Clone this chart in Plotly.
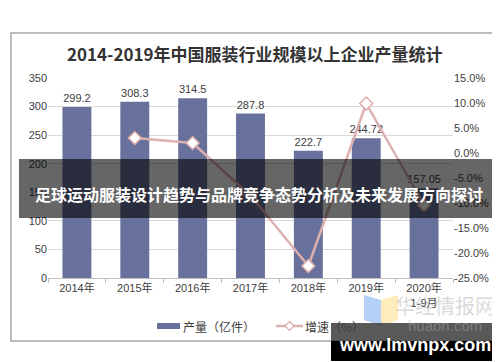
import plotly.graph_objects as go

categories = ["2014年", "2015年", "2016年", "2017年", "2018年", "2019年", "2020年<br>1-9月"]
output_values = [299.2, 308.3, 314.5, 287.8, 222.7, 244.72, 157.05]
output_labels = ["299.2", "308.3", "314.5", "287.8", "222.7", "244.72", "157.05"]
growth_values = [None, 3.0, 2.0, -8.5, -22.6, 9.9, -10.4]
left_ticks = [0, 50, 100, 150, 200, 250, 300, 350]
right_ticks = [-25, -20, -15, -10, -5, 0, 5, 10, 15]
right_tick_text = ["-25.0%", "-20.0%", "-15.0%", "-10.0%", "-5.0%", "0.0%", "5.0%", "10.0%", "15.0%"]

W, H = 500, 362
PL, PR, PT, PB = 40, 445, 70, 270


def px(x):
    return (x - PL) / (PR - PL)


def py(y):
    return (PB - y) / (PB - PT)


FONT = "Liberation Sans, Arial, Noto Sans CJK SC, sans-serif"
CJK = "Noto Sans CJK SC, sans-serif"
BAR_COLOR = "rgb(104,113,155)"
LINE_COLOR = "rgb(221,176,176)"

fig = go.Figure()
fig.add_trace(go.Bar(
    x=categories, y=output_values, name="产量（亿件）",
    marker=dict(color=BAR_COLOR, line=dict(width=0)),
    width=0.5,
    text=output_labels, textposition="outside", cliponaxis=False,
    constraintext="none",
    textfont=dict(family=FONT, size=11, color="#404040"),
))
fig.add_trace(go.Scatter(
    x=categories, y=growth_values, name="增速（%）", yaxis="y2",
    mode="lines+markers",
    line=dict(color=LINE_COLOR, width=2.5),
    marker=dict(symbol="diamond", size=10, color="white",
                line=dict(color="rgb(221,170,170)", width=1.5)),
))

shapes = []
# outer border
shapes.append(dict(type="rect", xref="paper", yref="paper",
                   x0=px(3), x1=px(497), y0=py(333), y1=py(25),
                   line=dict(color="#a6a6a6", width=1.5), layer="below"))
# custom legend marks
shapes.append(dict(type="rect", xref="paper", yref="paper",
                   x0=px(149), x1=px(172), y0=py(321), y1=py(315),
                   fillcolor=BAR_COLOR, line=dict(width=0)))
shapes.append(dict(type="line", xref="paper", yref="paper",
                   x0=px(268), x1=px(295), y0=py(318), y1=py(318),
                   line=dict(color=LINE_COLOR, width=2.5)))
shapes.append(dict(type="path", xref="paper", yref="paper",
                   path=f"M {px(281.5)},{py(313.5)} L {px(286)},{py(318)} L {px(281.5)},{py(322.5)} L {px(277)},{py(318)} Z",
                   fillcolor="white", line=dict(color="rgb(221,170,170)", width=1.2)))
# watermark logo (faint)
shapes.append(dict(type="path", xref="paper", yref="paper",
                   path=f"M {px(356)},{py(287)} L {px(373)},{py(292)} L {px(373)},{py(318)} L {px(356)},{py(312)} Z",
                   fillcolor="rgba(120,170,240,0.55)", line=dict(width=0), layer="above"))
shapes.append(dict(type="path", xref="paper", yref="paper",
                   path=f"M {px(373)},{py(292)} L {px(390)},{py(287)} L {px(390)},{py(312)} L {px(373)},{py(318)} Z",
                   fillcolor="rgba(250,225,140,0.6)", line=dict(width=0), layer="above"))
# banner
shapes.append(dict(type="rect", xref="paper", yref="paper",
                   x0=px(11), x1=px(490), y0=py(210), y1=py(151),
                   fillcolor="rgba(0,0,0,0.6)", line=dict(width=0), layer="above"))
# bottom-right site box
shapes.append(dict(type="rect", xref="paper", yref="paper",
                   x0=px(323), x1=px(491), y0=py(333), y1=py(315),
                   fillcolor="rgba(60,60,60,0.85)", line=dict(width=0), layer="above"))
shapes.append(dict(type="rect", xref="paper", yref="paper",
                   x0=px(323), x1=px(491), y0=py(353), y1=py(333),
                   fillcolor="#000000", line=dict(width=0), layer="above"))

annotations = [
    dict(text="<b>2014-2019年中国服装行业规模以上企业产量统计</b>", xref="paper", yref="paper",
         x=px(247), y=py(45), showarrow=False, xanchor="center", yanchor="middle",
         font=dict(family=CJK, size=17, color="#333333")),
    dict(text="产量（亿件）", xref="paper", yref="paper", x=px(173), y=py(318),
         showarrow=False, xanchor="left", yanchor="middle",
         font=dict(family=CJK, size=12, color="#404040")),
    dict(text="增速（%）", xref="paper", yref="paper", x=px(295), y=py(318),
         showarrow=False, xanchor="left", yanchor="middle",
         font=dict(family=CJK, size=12, color="#404040")),
    dict(text="华经情报网", xref="paper", yref="paper", x=px(437), y=py(297),
         showarrow=False, xanchor="center", yanchor="middle",
         font=dict(family=CJK, size=20, color="rgba(170,170,170,0.45)")),
    dict(text="huaon.com", xref="paper", yref="paper", x=px(437), y=py(317),
         showarrow=False, xanchor="center", yanchor="middle",
         font=dict(family=FONT, size=15, color="rgba(170,170,170,0.45)")),
    dict(text="<b>足球运动服装设计趋势与品牌竞争态势分析及未来发展方向探讨</b>", xref="paper", yref="paper",
         x=px(251), y=py(186), showarrow=False, xanchor="center", yanchor="middle",
         font=dict(family=CJK, size=16, color="white")),
    dict(text="<b>www.lmvnpx.com</b>", xref="paper", yref="paper",
         x=px(407), y=py(337), showarrow=False, xanchor="center", yanchor="middle",
         font=dict(family=FONT, size=18, color="white")),
]

fig.update_layout(
    width=W, height=H,
    margin=dict(l=PL, r=W - PR, t=PT, b=H - PB),
    paper_bgcolor="white", plot_bgcolor="white",
    showlegend=False,
    bargap=0.5,
    xaxis=dict(type="category", showline=True, linecolor="#bfbfbf", linewidth=1,
               ticks="outside", tickson="boundaries", ticklen=4, tickcolor="#bfbfbf",
               tickfont=dict(family=FONT, size=11, color="#404040"), showgrid=False),
    yaxis=dict(range=[0, 350], tickvals=left_ticks, showgrid=True, gridcolor="#d9d9d9",
               gridwidth=1, zeroline=False, showline=False,
               tickfont=dict(family=FONT, size=11, color="#404040")),
    yaxis2=dict(range=[-25, 15], tickvals=right_ticks, ticktext=right_tick_text,
                overlaying="y", side="right",
                showgrid=False, zeroline=False, showline=False,
                tickfont=dict(family=FONT, size=11, color="#404040")),
    shapes=shapes, annotations=annotations,
)

fig.write_html("out.html")
